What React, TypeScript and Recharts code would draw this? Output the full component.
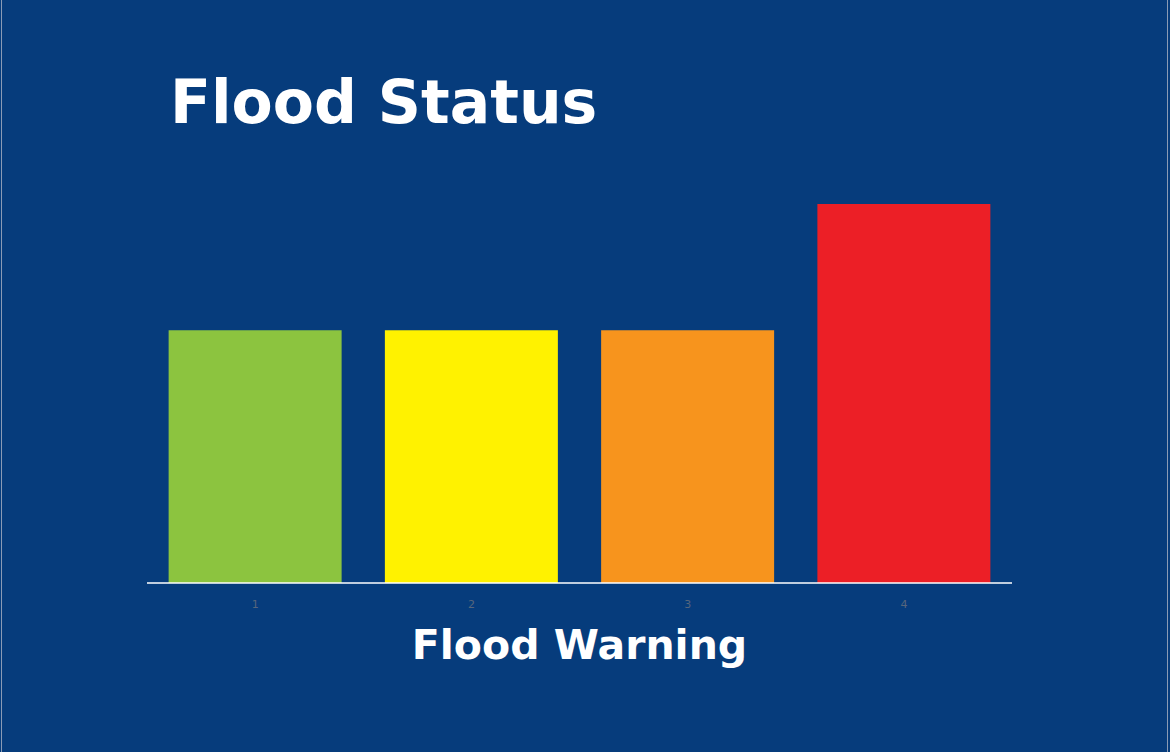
import React from 'react';
import { BarChart, Bar, XAxis, YAxis, Cell } from 'recharts';

const categories = ['1', '2', '3', '4'];
const values = [2, 2, 2, 3];
const colors = ['#8cc43f', '#fff200', '#f7941d', '#ec1f26'];

const data = categories.map((c, i) => ({ name: c, value: values[i] }));

export default function App() {
  return (
    <div style={{ position: 'absolute', left: 0, top: 0, width: 1170, height: 752, background: '#063c7c', overflow: 'hidden', fontFamily: '"DejaVu Sans", Verdana, sans-serif' }}>
      <div style={{ position: 'absolute', left: 1, top: 0, width: 1, height: 752, background: '#8a9bb5' }} />
      <div style={{ position: 'absolute', left: 1167, top: 0, width: 1, height: 752, background: '#8a9bb5' }} />
      <div style={{ position: 'absolute', left: 170, top: 66, color: '#fff', fontWeight: 'bold', fontSize: 60, lineHeight: '72px', whiteSpace: 'nowrap' }}>Flood Status</div>
      <div style={{ position: 'absolute', left: 0, width: 1159, top: 620, textAlign: 'center', color: '#fff', fontWeight: 'bold', fontSize: 41, lineHeight: '50px', whiteSpace: 'nowrap' }}>Flood Warning</div>
      <div style={{ position: 'absolute', left: 0, top: 0 }}>
        <BarChart width={1170} height={752} data={data} margin={{ top: 204, right: 158, bottom: 129, left: 147 }} barCategoryGap="10%">
          <XAxis dataKey="name" axisLine={{ stroke: '#ffffff', strokeWidth: 1.5 }} tickLine={false} tick={{ fill: '#56667c', fontSize: 11, dy: 9 }} height={40} />
          <YAxis hide domain={[0, 3]} />
          <Bar dataKey="value" isAnimationActive={false}>
            {data.map((d, i) => (
              <Cell key={d.name} fill={colors[i]} />
            ))}
          </Bar>
        </BarChart>
      </div>
    </div>
  );
}
